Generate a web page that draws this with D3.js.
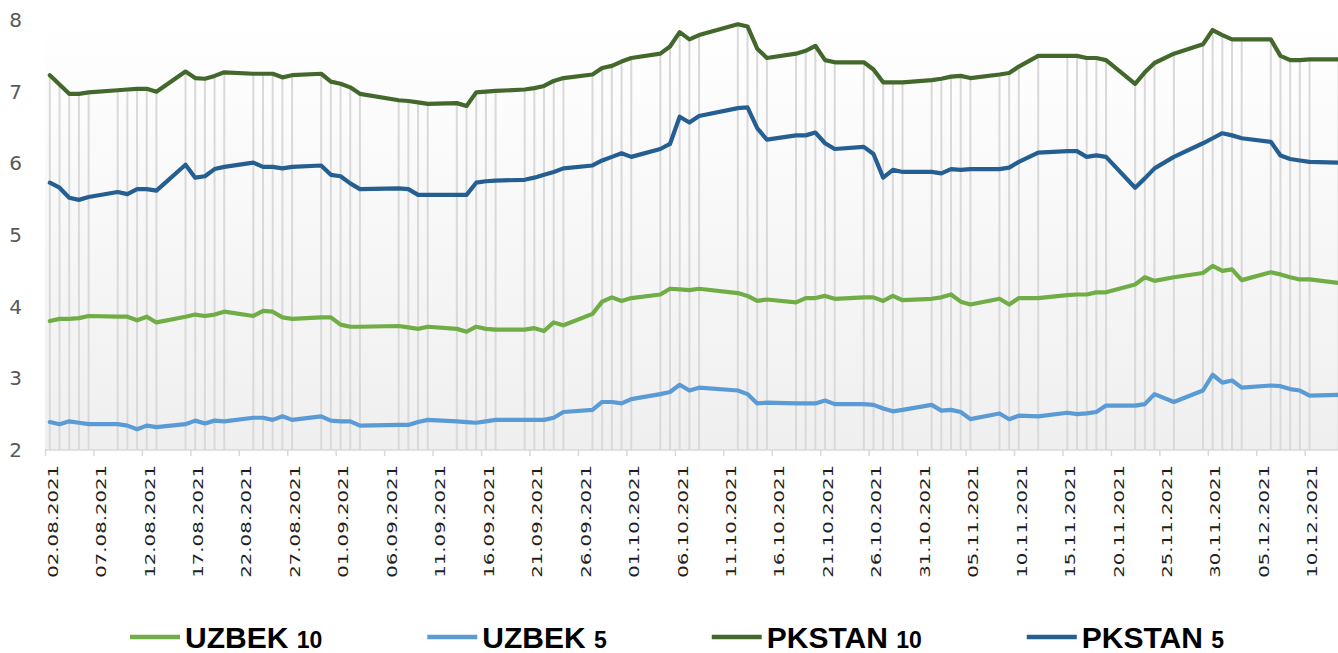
<!DOCTYPE html>
<html>
<head>
<meta charset="utf-8">
<script src="https://cdn.jsdelivr.net/npm/d3@7"></script>
<style>
  body { margin: 0; background: #fff; }
  svg { display: block; }
</style>
</head>
<body>
<script>
// trading days shown on the chart
var dates = [
  "02.08.2021","03.08.2021","04.08.2021","05.08.2021","06.08.2021",
  "09.08.2021","10.08.2021","11.08.2021","12.08.2021","13.08.2021",
  "16.08.2021","17.08.2021","18.08.2021","19.08.2021","20.08.2021",
  "23.08.2021","24.08.2021","25.08.2021","26.08.2021","27.08.2021",
  "30.08.2021","31.08.2021","01.09.2021","02.09.2021","03.09.2021",
  "07.09.2021","08.09.2021","09.09.2021","10.09.2021",
  "13.09.2021","14.09.2021","15.09.2021","16.09.2021","17.09.2021",
  "20.09.2021","21.09.2021","22.09.2021","23.09.2021","24.09.2021",
  "27.09.2021","28.09.2021","29.09.2021","30.09.2021","01.10.2021",
  "04.10.2021","05.10.2021","06.10.2021","07.10.2021","08.10.2021",
  "12.10.2021","13.10.2021","14.10.2021","15.10.2021",
  "18.10.2021","19.10.2021","20.10.2021","21.10.2021","22.10.2021",
  "25.10.2021","26.10.2021","27.10.2021","28.10.2021","29.10.2021",
  "01.11.2021","02.11.2021","03.11.2021","04.11.2021","05.11.2021",
  "08.11.2021","09.11.2021","10.11.2021",
  "12.11.2021",
  "15.11.2021","16.11.2021","17.11.2021","18.11.2021","19.11.2021",
  "22.11.2021","23.11.2021","24.11.2021",
  "26.11.2021",
  "29.11.2021","30.11.2021","01.12.2021","02.12.2021","03.12.2021",
  "06.12.2021","07.12.2021","08.12.2021","09.12.2021","10.12.2021",
  "13.12.2021"
];

var uzbek10 = [
  3.80, 3.83, 3.83, 3.84, 3.87,
  3.86, 3.86, 3.81, 3.86, 3.78,
  3.86, 3.89, 3.87, 3.89, 3.93,
  3.87, 3.94, 3.93, 3.85, 3.83,
  3.85, 3.85, 3.75, 3.72, 3.72,
  3.73, 3.71, 3.69, 3.72,
  3.69, 3.65, 3.72, 3.69, 3.68,
  3.68, 3.70, 3.66, 3.78, 3.74,
  3.90, 4.07, 4.13, 4.08, 4.12,
  4.17, 4.25, 4.24, 4.23, 4.25,
  4.19, 4.15, 4.08, 4.10,
  4.06, 4.12, 4.12, 4.15, 4.11,
  4.13, 4.13, 4.08, 4.15, 4.09,
  4.11, 4.13, 4.17, 4.07, 4.03,
  4.11, 4.03, 4.12,
  4.12,
  4.16, 4.17, 4.17, 4.20, 4.20,
  4.31, 4.41, 4.36,
  4.41,
  4.47, 4.57, 4.50, 4.52, 4.37,
  4.48, 4.45, 4.41, 4.38, 4.38,
  4.33
];

var uzbek5 = [
  2.39, 2.36, 2.40, 2.38, 2.36,
  2.36, 2.34, 2.29, 2.34, 2.32,
  2.36, 2.41, 2.37, 2.41, 2.40,
  2.45, 2.45, 2.42, 2.47, 2.42,
  2.47, 2.41, 2.40, 2.40, 2.34,
  2.35, 2.35, 2.39, 2.42,
  2.40, 2.39, 2.38, 2.40, 2.42,
  2.42, 2.42, 2.42, 2.45, 2.53,
  2.56, 2.67, 2.67, 2.65, 2.71,
  2.78, 2.81, 2.91, 2.83, 2.87,
  2.83, 2.78, 2.65, 2.66,
  2.65, 2.65, 2.65, 2.69, 2.64,
  2.64, 2.63, 2.58, 2.54, 2.56,
  2.63, 2.55, 2.56, 2.53, 2.43,
  2.51, 2.43, 2.48,
  2.47,
  2.52, 2.50, 2.51, 2.53, 2.62,
  2.62, 2.64, 2.78,
  2.67,
  2.83, 3.05, 2.94, 2.97, 2.87,
  2.90, 2.89, 2.85, 2.83, 2.76,
  2.77
];

var pkstan10 = [
  7.23, 7.10, 6.97, 6.97, 6.99,
  7.02, 7.03, 7.04, 7.04, 7.00,
  7.28, 7.19, 7.18, 7.22, 7.27,
  7.25, 7.25, 7.25, 7.20, 7.23,
  7.25, 7.14, 7.11, 7.06, 6.97,
  6.88, 6.87, 6.85, 6.83,
  6.84, 6.80, 6.99, 7.00, 7.01,
  7.03, 7.05, 7.08, 7.15, 7.19,
  7.24, 7.33, 7.36, 7.42, 7.47,
  7.53, 7.63, 7.83, 7.73, 7.79,
  7.94, 7.91, 7.60, 7.47,
  7.53, 7.57, 7.64, 7.44, 7.41,
  7.41, 7.31, 7.13, 7.13, 7.13,
  7.16, 7.18, 7.21, 7.22, 7.19,
  7.24, 7.26, 7.35,
  7.50,
  7.50, 7.50, 7.47, 7.47, 7.44,
  7.11, 7.27, 7.40,
  7.53,
  7.66, 7.86, 7.79, 7.73, 7.73,
  7.73, 7.50, 7.44, 7.44, 7.45,
  7.45
];

var pkstan5 = [
  5.73, 5.66, 5.52, 5.49, 5.53,
  5.60, 5.57, 5.64, 5.64, 5.62,
  5.98, 5.80, 5.82, 5.92, 5.95,
  6.01, 5.95, 5.95, 5.93, 5.95,
  5.97, 5.84, 5.82, 5.72, 5.64,
  5.65, 5.64, 5.56, 5.56,
  5.56, 5.56, 5.73, 5.75, 5.76,
  5.77, 5.80, 5.84, 5.88, 5.93,
  5.97, 6.04, 6.09, 6.14, 6.09,
  6.20, 6.27, 6.65, 6.57, 6.66,
  6.77, 6.78, 6.49, 6.33,
  6.39, 6.39, 6.43, 6.28, 6.20,
  6.23, 6.13, 5.80, 5.91, 5.88,
  5.88, 5.86, 5.92, 5.91, 5.92,
  5.92, 5.94, 6.02,
  6.15,
  6.17, 6.17, 6.09, 6.11, 6.09,
  5.66, 5.79, 5.93,
  6.09,
  6.28, 6.35, 6.42, 6.39, 6.35,
  6.30, 6.11, 6.06, 6.04, 6.02,
  6.01
];

var seriesNames = ["UZBEK 10", "UZBEK 5", "PKSTAN 10", "PKSTAN 5"];
var seriesColors = ["#70ad47", "#5b9bd5", "#43682b", "#255e91"];
var yTicks = [2, 3, 4, 5, 6, 7, 8];

var width = 1338, height = 653;
var plot = { l: 45, t: 20, b: 450, dayW: 9.69 };

var parseDate = d3.utcParse("%d.%m.%Y");
var days = dates.map(parseDate);
var start = days[0];
var end = d3.utcDay.offset(start, 140);

var x = d3.scaleUtc()
    .domain([start, end])
    .range([plot.l, plot.l + 140 * plot.dayW]);
var y = d3.scaleLinear()
    .domain([2, 8])
    .range([plot.b, plot.t]);

// points sit in the middle of their day
function px(d) { return x(d3.utcHour.offset(d, 12)); }

var svg = d3.select("body").append("svg")
    .attr("width", width)
    .attr("height", height);

var defs = svg.append("defs");
var grad = defs.append("linearGradient")
    .attr("id", "bg")
    .attr("x1", 0).attr("y1", 0).attr("x2", 0).attr("y2", 1);
grad.append("stop").attr("offset", "0%").attr("stop-color", "#ffffff");
grad.append("stop").attr("offset", "100%").attr("stop-color", "#efefef");

svg.append("rect")
    .attr("x", plot.l)
    .attr("y", plot.t)
    .attr("width", width - plot.l)
    .attr("height", plot.b - plot.t)
    .attr("fill", "url(#bg)");

var allSeries = [uzbek10, uzbek5, pkstan10, pkstan5];

// drop lines from the highest point to the axis
svg.append("g").selectAll("line")
    .data(days)
    .enter()
    .append("line")
    .attr("x1", function (d) { return px(d); })
    .attr("x2", function (d) { return px(d); })
    .attr("y1", function (d, i) {
        return y(d3.max(allSeries, function (s) { return s[i]; }));
    })
    .attr("y2", plot.b)
    .style("stroke", "#d9d9d9")
    .style("stroke-width", 2);

// x axis, a tick every 5 days
var lastDay = days[days.length - 1];
var tickDays = d3.utcDay.range(start, lastDay, 5);
var xAxis = d3.axisBottom(x)
    .tickValues(tickDays)
    .tickFormat(d3.utcFormat("%d.%m.%Y"))
    .tickSize(6)
    .tickSizeOuter(0);

var gx = svg.append("g")
    .attr("transform", "translate(0," + plot.b + ")")
    .call(xAxis);
gx.select(".domain")
    .attr("d", "M" + plot.l + ",0H" + width)
    .style("stroke", "#d9d9d9")
    .style("stroke-width", 1.5);
gx.selectAll(".tick line")
    .style("stroke", "#d9d9d9")
    .style("stroke-width", 1.5);
gx.selectAll(".tick text")
    .attr("x", null)
    .attr("y", null)
    .attr("dy", "0.35em")
    .attr("text-anchor", "end")
    .attr("transform", "translate(7,15) scale(1,1.34) rotate(-90)")
    .style("font-family", "'DejaVu Sans', sans-serif")
    .style("font-size", "14.7px")
    .style("fill", "#1f1f1f");

// y axis labels
var gy = svg.append("g")
    .attr("transform", "translate(" + plot.l + ",0)")
    .call(d3.axisLeft(y).tickValues(yTicks).tickFormat(d3.format("d"))
        .tickSize(0).tickPadding(23));
gy.select(".domain").remove();
gy.selectAll(".tick text")
    .style("font-family", "'DejaVu Sans', sans-serif")
    .style("font-size", "20px")
    .style("fill", "#595959");

// series lines
var line = d3.line()
    .x(function (d, i) { return px(days[i]); })
    .y(function (d) { return y(d); });

var drawOrder = [1, 0, 3, 2];
drawOrder.forEach(function (k) {
    svg.append("path")
        .datum(allSeries[k])
        .attr("d", line)
        .attr("fill", "none")
        .attr("stroke", seriesColors[k])
        .attr("stroke-width", 4.2)
        .attr("stroke-linejoin", "round")
        .attr("stroke-linecap", "round");
});

// legend
var legend = svg.append("g").attr("class", "legend");
var lx = 130, ly = 637;
seriesNames.forEach(function (name, k) {
    var parts = name.split(" ");
    var item = legend.append("g").attr("transform", "translate(" + lx + "," + ly + ")");
    item.append("line")
        .attr("x1", 0).attr("x2", 50)
        .attr("y1", 0).attr("y2", 0)
        .attr("stroke", seriesColors[k])
        .attr("stroke-width", 4.5);
    var t = item.append("text")
        .attr("x", 55)
        .attr("y", 11)
        .style("font-family", "'Liberation Sans', Arial, sans-serif")
        .style("font-weight", "bold")
        .style("font-size", "30px")
        .style("fill", "#000");
    t.append("tspan").text(parts[0] + " ");
    t.append("tspan").style("font-size", "23px").text(parts[1]);
    var w = t.node().getComputedTextLength();
    lx += 55 + w + 105;
});
</script>
</body>
</html>
